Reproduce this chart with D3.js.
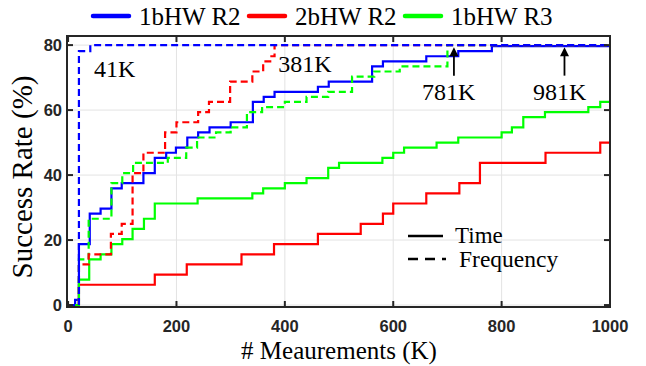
<!DOCTYPE html>
<html><head><meta charset="utf-8">
<script src="https://cdn.jsdelivr.net/npm/d3@7"></script>
<style>html,body{margin:0;padding:0;background:#fff;}svg{display:block;}</style>
</head><body>
<script>
// ---- data ----
const seriesNames = ["1bHW R2", "2bHW R2", "1bHW R3"];
const seriesColors = ["#0000ff", "#ff0000", "#00ff00"];
const xTicks = [0, 200, 400, 600, 800, 1000];
const yTicks = [0, 20, 40, 60, 80];
// Time (solid) step curves: [K measurements, success %]
const blueTime = [[0,0],[13,1.5625],[20,18.75],[40,28.125],[60,29.6875],[80,35.9375],[99,37.5],[139,40.625],[160,45.3125],[181,46.875],[199,48.4375],[220,51.5625],[240,53.125],[261,54.6875],[300,56.25],[341,62.5],[361,64.0625],[381,65.625],[461,67.1875],[481,68.75],[561,73.4375],[581,75],[661,76.5625],[720,78.125],[782,79.7],[1000,79.7]];
const redTime = [[0,0],[20,6.25],[160,9.375],[219,12.5],[320,15.625],[380,18.75],[461,21.875],[540,25],[581,28.125],[600,31.25],[661,34.375],[722,37.5],[760,43.75],[881,46.875],[982,50],[1000,50]];
const greenTime = [[0,0],[20,7.8125],[39,14.0625],[60,15.625],[80,18.75],[100,20.3125],[119,23.4375],[140,26.5625],[160,31.25],[239,32.8125],[340,34.375],[360,35.9375],[400,37.5],[440,39.0625],[480,42.1875],[500,43.75],[580,45.3125],[600,46.875],[620,48.4375],[680,50],[720,51.5625],[800,53.125],[819,54.6875],[840,57.8125],[880,59.375],[960,60.9375],[982,62.5],[1000,62.5]];
// Frequency (dashed) step curves
const blueFreq = [[0,0],[20,78.125],[41,80],[1000,80]];
const redFreq = [[0,0],[20,12.5],[38,15.625],[79,21.875],[99,25],[119,40.625],[139,46.875],[179,53.125],[200,56.25],[240,59.375],[260,62.5],[299,68.75],[340,71.875],[360,75],[373,76.5625],[381,80],[1000,80]];
const greenFreq = [[0,0],[20,14.0625],[38,26.5625],[80,37.5],[100,40.625],[120,43.75],[184,45.3125],[218,48.4375],[238,51.5625],[273,53.125],[300,54.6875],[330,59.375],[358,60.9375],[400,62.5],[440,64.0625],[480,65.625],[524,70.3125],[565,71.875],[612,73.4375],[700,80],[1000,80]];
// annotations: [label, x(K) of left edge, y(%) of baseline]; arrows [x(K), y from, y tip]
const annotations = [["41K", 48, 70.2], ["381K", 388, 71.6], ["781K", 653, 63.1], ["981K", 858, 63.1]];
const arrows = [[712, 70.6, 79.3], [916, 70.6, 79.3]];

// ---- layout ----
const W = 646, H = 366;
const L = 67, R = 610, T = 36, B = 307;
const x = d3.scaleLinear().domain([-2, 1000]).range([L, R]);
const y = d3.scaleLinear().domain([-0.6, 82.8]).range([B, T]);
const axisColor = "#262626";

const svg = d3.select("body").append("svg").attr("width", W).attr("height", H);

// grid
const grid = svg.append("g");
xTicks.filter(d => d > 0 && d < 1000).forEach(d => {
  grid.append("line").attr("x1", x(d)).attr("x2", x(d)).attr("y1", T).attr("y2", B)
    .attr("stroke", "#e3e3e3").attr("stroke-width", 1);
});
yTicks.forEach(d => {
  grid.append("line").attr("x1", L).attr("x2", R).attr("y1", y(d)).attr("y2", y(d))
    .attr("stroke", "#e3e3e3").attr("stroke-width", 1);
});

// curves
const line = d3.line().x(d => x(d[0])).y(d => y(d[1])).curve(d3.curveStepAfter);
const plotG = svg.append("g");
const solids = [blueTime, redTime, greenTime];
const dashes = [greenFreq, redFreq, blueFreq];
const dashColors = ["#00ff00", "#ff0000", "#0000ff"];
solids.forEach((s, i) => {
  plotG.append("path").attr("d", line(s)).attr("fill", "none")
    .attr("stroke", seriesColors[i]).attr("stroke-width", 2.2);
});
dashes.forEach((s, i) => {
  plotG.append("path").attr("d", line(s)).attr("fill", "none")
    .attr("stroke", dashColors[i]).attr("stroke-width", 2.2)
    .attr("stroke-dasharray", "7,4");
});

// frame
svg.append("rect").attr("x", L).attr("y", T).attr("width", R - L).attr("height", B - T)
  .attr("fill", "none").attr("stroke", axisColor).attr("stroke-width", 2);

// ticks (inward, mirrored)
const tk = 6;
xTicks.forEach(d => {
  svg.append("line").attr("x1", x(d)).attr("x2", x(d)).attr("y1", B).attr("y2", B - tk).attr("stroke", axisColor).attr("stroke-width", 2);
  svg.append("line").attr("x1", x(d)).attr("x2", x(d)).attr("y1", T).attr("y2", T + tk).attr("stroke", axisColor).attr("stroke-width", 2);
  svg.append("text").attr("x", x(d)).attr("y", B + 25).attr("text-anchor", "middle")
    .attr("font-family", "Liberation Sans, Arial, sans-serif").attr("font-weight", "bold")
    .attr("font-size", 16.5).attr("fill", axisColor).text(d);
});
yTicks.forEach(d => {
  svg.append("line").attr("x1", L).attr("x2", L + tk).attr("y1", y(d)).attr("y2", y(d)).attr("stroke", axisColor).attr("stroke-width", 2);
  svg.append("line").attr("x1", R).attr("x2", R - tk).attr("y1", y(d)).attr("y2", y(d)).attr("stroke", axisColor).attr("stroke-width", 2);
  svg.append("text").attr("x", L - 5).attr("y", y(d)).attr("dy", "0.36em").attr("text-anchor", "end")
    .attr("font-family", "Liberation Sans, Arial, sans-serif").attr("font-weight", "bold")
    .attr("font-size", 16.5).attr("fill", axisColor).text(d);
});

// axis labels
const serif = "Liberation Serif, Times New Roman, serif";
svg.append("text").attr("x", 339).attr("y", 359).attr("text-anchor", "middle")
  .attr("font-family", serif).attr("font-size", 25).attr("fill", "#000").text("# Meaurements (K)");
svg.append("text").attr("transform", "translate(32,177) rotate(-90)").attr("text-anchor", "middle")
  .attr("font-family", serif).attr("font-size", 29).attr("fill", "#000").text("Success Rate (%)");

// top legend
const legX = [93, 249, 405];
seriesNames.forEach((n, i) => {
  svg.append("line").attr("x1", legX[i]).attr("x2", legX[i] + 36).attr("y1", 16).attr("y2", 16)
    .attr("stroke", seriesColors[i]).attr("stroke-width", 4.5).attr("stroke-linecap", "round");
  svg.append("text").attr("x", legX[i] + 46).attr("y", 25).attr("font-family", serif)
    .attr("font-size", 25).attr("fill", "#000").text(n);
});

// annotations
annotations.forEach(a => {
  svg.append("text").attr("x", x(a[1])).attr("y", y(a[2])).attr("text-anchor", "start")
    .attr("font-family", serif).attr("font-size", 24).attr("fill", "#000").text(a[0]);
});
arrows.forEach(a => {
  const ax = x(a[0]), y0 = y(a[1]), y1 = y(a[2]);
  svg.append("line").attr("x1", ax).attr("x2", ax).attr("y1", y0).attr("y2", y1 + 7)
    .attr("stroke", "#000").attr("stroke-width", 1.8);
  svg.append("path").attr("d", `M${ax},${y1} L${ax - 4.5},${y1 + 9} L${ax + 4.5},${y1 + 9} Z`).attr("fill", "#000");
});

// inset legend (Time / Frequency)
svg.append("line").attr("x1", 408).attr("x2", 443).attr("y1", 236).attr("y2", 236)
  .attr("stroke", "#000").attr("stroke-width", 2.5);
svg.append("line").attr("x1", 408).attr("x2", 446).attr("y1", 259).attr("y2", 259)
  .attr("stroke", "#000").attr("stroke-width", 2.5).attr("stroke-dasharray", "10,7");
svg.append("text").attr("x", 455).attr("y", 243).attr("font-family", serif).attr("font-size", 23).text("Time");
svg.append("text").attr("x", 459).attr("y", 267).attr("font-family", serif).attr("font-size", 23.5).text("Frequency");
</script>
</body></html>
